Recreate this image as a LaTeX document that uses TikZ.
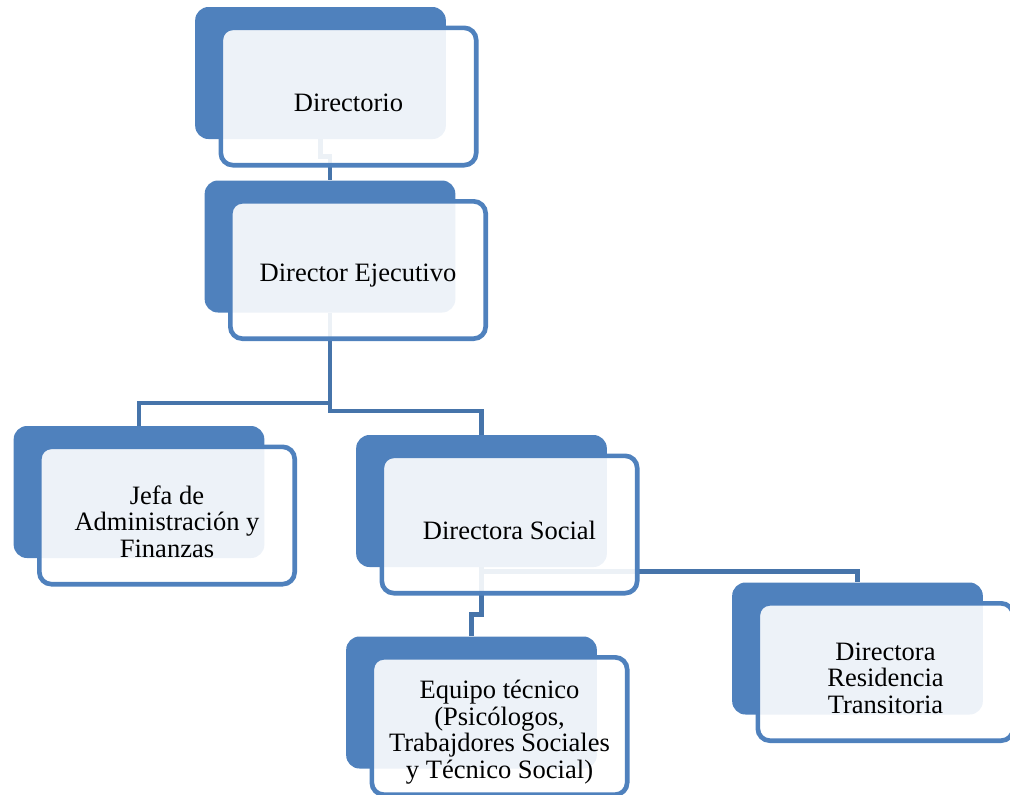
\documentclass[tikz,border=0pt]{standalone}
\usepackage{fontspec}
\setmainfont{Liberation Serif}
\usetikzlibrary{positioning}
\pgfdeclarelayer{bg}
\pgfsetlayers{bg,main}
\definecolor{boxblue}{HTML}{4F81BD}
\definecolor{linkblue}{HTML}{4674AA}

\begin{document}
\begin{tikzpicture}[x=0.75pt,y=-0.75pt,
	back/.style={fill=boxblue,rounded corners=10pt,minimum width=188pt,minimum height=99pt,inner sep=0pt},
	front/.style={draw=boxblue,line width=3.5pt,fill=white,fill opacity=0.9,rounded corners=9pt,minimum width=191.5pt,minimum height=103pt,inner sep=0pt},
	txt/.style={align=center,font=\fontsize{19.9}{19.9}\selectfont,inner sep=0pt},
	link/.style={draw=linkblue,line width=3.4pt,miter limit=4}]
		\useasboundingbox (0,0) rectangle (1010,794);
		\foreach \n/\x/\y/\t in {dir/320.5/73/{Directorio},
			eje/330/246.5/{Director Ejecutivo},
			adm/139/492/{Jefa de\\Administración y\\Finanzas},
			soc/481.5/501/{Directora Social},
			equ/471.5/702.5/{Equipo técnico\\(Psicólogos,\\Trabajdores Sociales\\y Técnico Social)},
			res/857.5/648.5/{Directora\\Residencia\\Transitoria}}
		{\node[back] (b\n) at (\x,\y) {};
		 \node[front] (f\n) at ([shift={(28,23.5)}]b\n.center) {};
		 \node[txt] (\n) at ([shift={(28,29.5)}]b\n.center) {\t};}
		\begin{pgfonlayer}{bg}
		\draw[link] (bdir.south) -- ++(0,17) -| (beje.north);
		\draw[link] (beje.south) -- ++(0,90) -| (badm.north);
		\draw[link] (beje.south) -- ++(0,98) -| (bsoc.north);
		\draw[link] (bsoc.south) -- ++(0,47) -| (bequ.north);
		\draw[link] (bsoc.south) -- ++(0,4) -| (bres.north);
		\end{pgfonlayer}
	   \end{tikzpicture}
\end{document}
